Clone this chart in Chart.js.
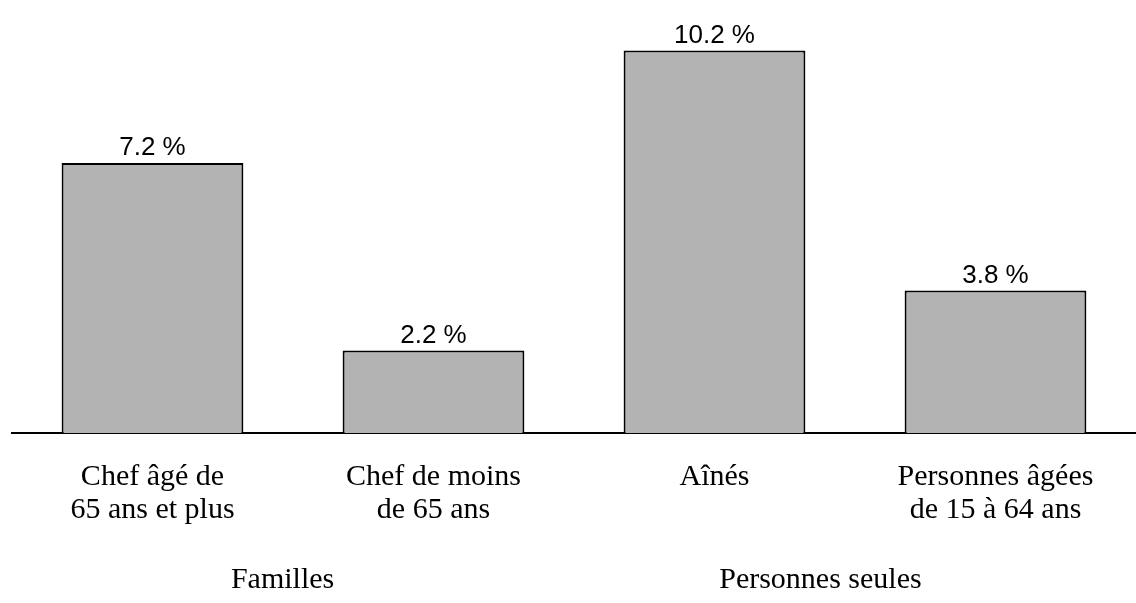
<!DOCTYPE html>
<html lang="fr">
<head>
<meta charset="utf-8">
<title>Taux par type de ménage</title>
<script src="https://cdn.jsdelivr.net/npm/chart.js@4.4.1/dist/chart.umd.min.js"></script>
<style>
    html, body { margin: 0; padding: 0; background: #ffffff; }
    #wrap { width: 1136px; height: 603px; position: relative; }
</style>
</head>
<body>
<div id="wrap"><canvas id="chart"></canvas></div>
<script>
// Chart data
const categories = [
    ['Chef âgé de', '65 ans et plus'],
    ['Chef de moins', 'de 65 ans'],
    ['Aînés'],
    ['Personnes âgées', 'de 15 à 64 ans']
];
const values = [7.2, 2.2, 10.2, 3.8];
const groupLabels = ['Familles', 'Personnes seules'];

// Draw "x.x %" above each bar
const valueLabelPlugin = {
    id: 'valueLabels',
    afterDatasetsDraw(chart) {
        const ctx = chart.ctx;
        const meta = chart.getDatasetMeta(0);
        ctx.save();
        ctx.font = '26px "Liberation Sans", Arial, sans-serif';
        ctx.fillStyle = '#000000';
        ctx.textAlign = 'center';
        ctx.textBaseline = 'alphabetic';
        meta.data.forEach((bar, i) => {
            ctx.fillText(values[i].toFixed(1) + ' %', bar.x, bar.y - 8);
        });
        ctx.restore();
    }
};

// Draw the group names under the category labels
const groupLabelPlugin = {
    id: 'groupLabels',
    afterDraw(chart) {
        const ctx = chart.ctx;
        const xScale = chart.scales.x;
        const anchors = [0.463, 2.377];
        ctx.save();
        ctx.font = '30px "Liberation Serif", "Times New Roman", serif';
        ctx.fillStyle = '#000000';
        ctx.textAlign = 'center';
        ctx.textBaseline = 'alphabetic';
        groupLabels.forEach((label, i) => {
            ctx.fillText(label, xScale.getPixelForValue(anchors[i]), 588);
        });
        ctx.restore();
    }
};

new Chart(document.getElementById('chart'), {
    type: 'bar',
    data: {
        labels: categories,
        datasets: [{
            data: values,
            backgroundColor: '#b3b3b3',
            borderColor: '#000000',
            borderWidth: 2,
            barPercentage: 0.647,
            categoryPercentage: 1.0
        }]
    },
    options: {
        responsive: true,
        maintainAspectRatio: false,
        animation: false,
        layout: {
            padding: { top: 0, left: 12, right: 0, bottom: 48 }
        },
        plugins: {
            legend: { display: false },
            tooltip: { enabled: false }
        },
        scales: {
            x: {
                grid: { display: false, drawTicks: false },
                border: { display: true, color: '#000000', width: 2 },
                ticks: {
                    color: '#000000',
                    padding: 28,
                    maxRotation: 0,
                    autoSkip: false,
                    font: { family: '"Liberation Serif", "Times New Roman", serif', size: 30, lineHeight: 1.1 }
                }
            },
            y: {
                display: false,
                min: 0,
                max: 11.55
            }
        }
    },
    plugins: [valueLabelPlugin, groupLabelPlugin]
});
</script>
</body>
</html>
